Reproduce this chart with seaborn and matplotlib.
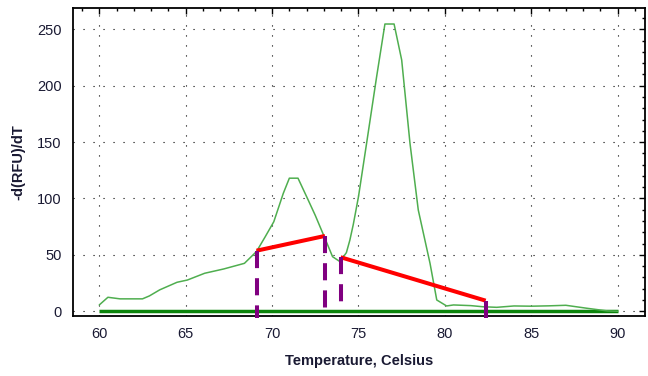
import matplotlib
matplotlib.use("Agg")
import matplotlib.pyplot as plt
from matplotlib.ticker import MultipleLocator
import pandas as pd
import seaborn as sns

# ---- data ----
temperature = [60.0, 60.5, 61.2, 62.5, 62.9, 63.5, 64.5, 65.1, 66.1, 67.2, 68.4,
               69.1, 69.6, 70.1, 70.65, 71.0, 71.5, 72.0, 72.5, 73.0, 73.5, 73.93,
               74.3, 74.5, 74.7, 75.0, 75.47, 76.05, 76.53, 77.06, 77.5, 77.98,
               78.46, 79.14, 79.53, 80.1, 80.5, 81.5, 82.2, 83.0, 84.0, 85.0,
               86.0, 87.0, 88.2, 89.4, 90.0]
neg_drfu_dt = [5.6, 12.4, 11.0, 11.0, 13.6, 19.0, 25.7, 27.7, 33.7, 37.5, 42.5,
               53.0, 66.0, 79.4, 104.6, 118.0, 118.0, 101.6, 85.0, 66.8, 48.4, 44.0,
               52.0, 63.0, 77.0, 101.6, 149.0, 208.0, 254.7, 254.7, 222.8, 149.0,
               89.8, 42.5, 10.0, 4.7, 5.6, 5.0, 4.0, 3.5, 4.7, 4.5,
               4.8, 5.3, 2.7, 0.3, 0.0]

baseline_x = [60, 90]
baseline_y = [0, 0]

seg1_x = [69.1, 73.06]
seg1_y = [53.7, 66.8]
seg2_x = [73.97, 82.36]
seg2_y = [47.9, 9.4]

drop_x = [69.1, 73.06, 73.97, 82.36]
drop_top = [53.7, 66.8, 47.9, 9.4]
drop_bottom = [-6.2, 1.2, 8.5, -6.2]
drop_dashed = [True, True, True, False]

x_ticks = [60, 65, 70, 75, 80, 85, 90]
y_ticks = [0, 50, 100, 150, 200, 250]

df = pd.DataFrame({"Temperature": temperature, "dRFU": neg_drfu_dt})

# ---- style ----
sns.set_theme(style="white")
plt.rcParams["font.family"] = ["Liberation Sans", "DejaVu Sans"]

W, H = 648, 376
fig = plt.figure(figsize=(W / 100, H / 100), dpi=100)
fig.patch.set_facecolor("white")
ax = fig.add_axes([73 / W, 1 - 316 / H, 572 / W, 308 / H])
ax.set_facecolor("white")

ax.set_xlim(58.48, 91.58)
ax.set_ylim(-4.2, 268.9)

ax.grid(True, which="major", color="black", linestyle=(0, (1, 8)), linewidth=0.8)

# baseline (thick dark green)
ax.plot(baseline_x, baseline_y, color="#0b840b", lw=2.5, solid_capstyle="butt", zorder=2)

# melt curve
sns.lineplot(data=df, x="Temperature", y="dRFU", ax=ax, color="#4fae4f", lw=1.1,
             sort=False, zorder=3)

# red segments
ax.plot(seg1_x, seg1_y, color="#ff0000", lw=2.9, solid_capstyle="butt", zorder=4)
ax.plot(seg2_x, seg2_y, color="#ff0000", lw=2.9, solid_capstyle="butt", zorder=4)

# purple drop lines
for x, top, bot, dashed in zip(drop_x, drop_top, drop_bottom, drop_dashed):
    ls = (0, (4.25, 2.5)) if dashed else "-"
    ax.plot([x, x], [top, bot], color="#800080", lw=2.9, linestyle=ls,
            solid_capstyle="butt", dash_capstyle="butt", clip_on=False, zorder=5)

# ticks
ax.set_xticks(x_ticks)
ax.set_yticks(y_ticks)
ax.xaxis.set_minor_locator(MultipleLocator(1))
ax.yaxis.set_minor_locator(MultipleLocator(10))
tick_color = "#1a1a33"
ax.tick_params(axis="both", which="major", direction="inout", length=7.2, width=1.0,
               color="black", labelsize=10.5, labelcolor=tick_color)
ax.tick_params(axis="both", which="minor", direction="inout", length=4.5, width=1.0,
               color="black")
ax.tick_params(axis="x", which="major", pad=4.5)
ax.tick_params(axis="y", which="major", pad=4.5)

# inward ticks on top / right
secx = ax.secondary_xaxis("top")
secx.set_xticks(x_ticks)
secx.xaxis.set_minor_locator(MultipleLocator(1))
secx.tick_params(which="both", direction="in", labeltop=False, color="black", width=1.0)
secx.tick_params(which="major", length=4)
secx.tick_params(which="minor", length=2.5)
secx.spines["top"].set_visible(False)
secy = ax.secondary_yaxis("right")
secy.set_yticks(y_ticks)
secy.yaxis.set_minor_locator(MultipleLocator(10))
secy.tick_params(which="both", direction="in", labelright=False, color="black", width=1.0)
secy.tick_params(which="major", length=4)
secy.tick_params(which="minor", length=2.5)
secy.spines["right"].set_visible(False)

for s in ax.spines.values():
    s.set_visible(True)
    s.set_color("black")
    s.set_linewidth(1.3)

ax.set_xlabel("Temperature, Celsius", fontsize=10.5, fontweight="bold", color=tick_color)
ax.set_ylabel("-d(RFU)/dT", fontsize=10.5, fontweight="bold", color=tick_color)
ax.xaxis.set_label_coords(0.5, -0.125)
ax.yaxis.set_label_coords(-0.084, 0.5)

fig.savefig("out.png", dpi=100, facecolor="white")
